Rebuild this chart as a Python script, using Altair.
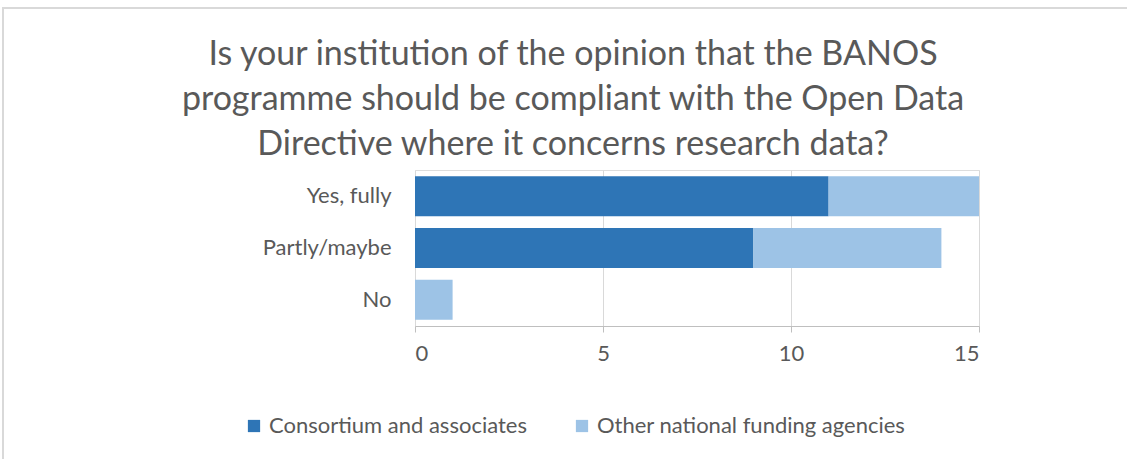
import altair as alt
import pandas as pd

categories = ["Yes, fully", "Partly/maybe", "No"]
series = ["Consortium and associates", "Other national funding agencies"]
consortium = [11, 9, 0]
other = [4, 5, 1]
colors = ["#2E75B6", "#9DC3E6"]
title_lines = [
    "Is your institution of the opinion that the BANOS",
    "programme should be compliant with the Open Data",
    "Directive where it concerns research data?",
]

rows = []
for i, c in enumerate(categories):
    rows.append({"cat": c, "series": series[0], "value": consortium[i], "order": 0})
    rows.append({"cat": c, "series": series[1], "value": other[i], "order": 1})
df = pd.DataFrame(rows)
title_df = pd.DataFrame({"t": ["\n".join(title_lines)]})

FONT = "Lato"
GRAY = "#595959"

bars = alt.Chart(df).mark_bar().encode(
    y=alt.Y("cat:N", sort=categories, title=None,
            scale=alt.Scale(paddingInner=0.23, paddingOuter=0.12),
            axis=alt.Axis(ticks=False, domain=False, labelFontSize=22, labelColor=GRAY,
                          labelFont=FONT, labelPadding=24)),
    x=alt.X("value:Q", stack="zero", title=None,
            scale=alt.Scale(domain=[0, 15], nice=False),
            axis=alt.Axis(values=[0, 5, 10, 15], grid=True, gridColor="#d9d9d9",
                          domainColor="#bfbfbf", tickColor="#bfbfbf", tickSize=6,
                          labelFontSize=22, labelColor=GRAY, labelFont=FONT, labelPadding=11)),
    color=alt.Color("series:N", sort=series,
                    scale=alt.Scale(domain=series, range=colors),
                    legend=alt.Legend(orient="none", legendX=-172, legendY=245,
                                      direction="horizontal", title=None,
                                      symbolType="square", symbolSize=150,
                                      labelFontSize=22, labelColor=GRAY, labelFont=FONT,
                                      labelLimit=0, columnPadding=44, symbolStrokeWidth=0)),
    order=alt.Order("order:Q"),
)

border = alt.Chart(df).mark_rect(fill=None, stroke="#d9d9d9", strokeWidth=2).encode(
    x=alt.value(-412), x2=alt.value(720), y=alt.value(-162), y2=alt.value(300)
)

title = alt.Chart(title_df).mark_text(
    lineBreak="\n", lineHeight=45, fontSize=34, font=FONT, color=GRAY,
    align="center", baseline="top"
).encode(x=alt.value(158), y=alt.value(-132), text="t:N")

chart = alt.layer(border, bars, title).properties(
    width=564, height=156,
    autosize=alt.AutoSizeParams(type="none"),
    padding={"left": 415, "top": 170, "right": 148, "bottom": 133},
).configure_view(stroke=None).configure(background="white")

chart.save("out.html", embed_options={"renderer": "svg", "actions": False})
